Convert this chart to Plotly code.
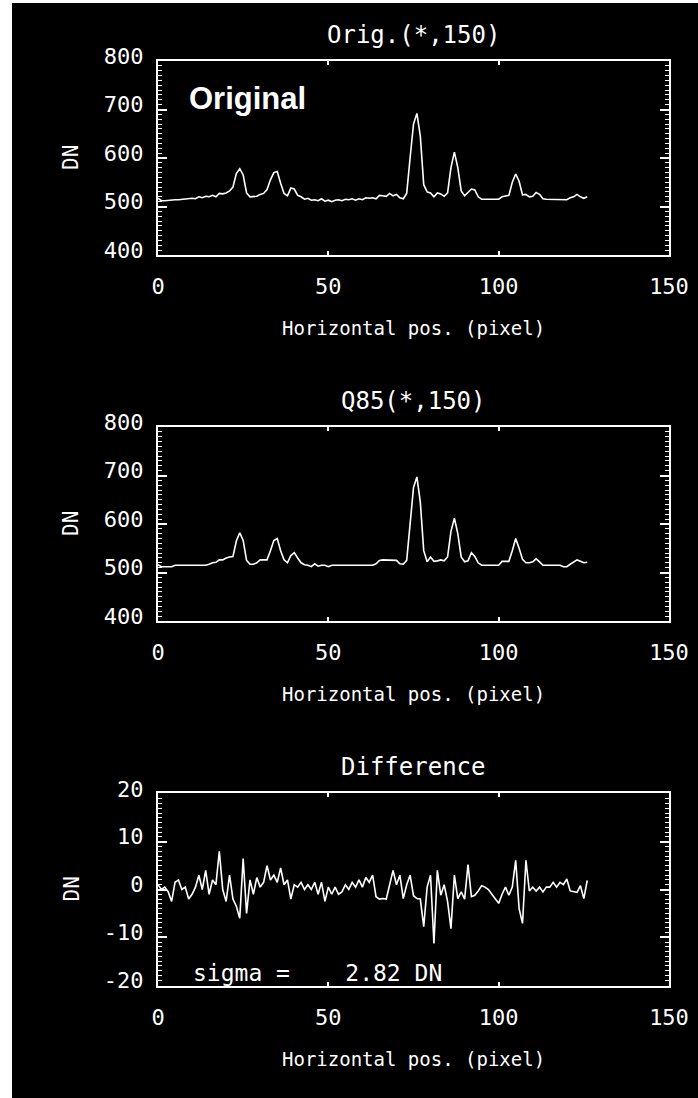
import plotly.graph_objects as go

# Row profile at y=150: pixel position along the row
pixel_pos = list(range(127))

# Original image row (DN)
orig_dn = [
    517, 512, 512, 513, 513, 514, 514, 515, 515, 516,
    517, 516, 520, 518, 521, 520, 523, 520, 527, 526,
    528, 532, 540, 568, 578, 565, 528, 520, 521, 521,
    525, 527, 535, 555, 570, 572, 548, 527, 522, 538,
    536, 523, 520, 515, 517, 513, 514, 512, 516, 511,
    513, 510, 513, 514, 512, 515, 514, 516, 513, 516,
    514, 518, 517, 518, 516, 523, 522, 521, 527, 522,
    525, 518, 516, 527, 600, 670, 692, 645, 545, 530,
    528, 520, 528, 526, 521, 528, 580, 612, 580, 532,
    522, 528, 536, 534, 520, 515, 515, 515, 514, 515,
    515, 520, 521, 523, 550, 567, 552, 524, 525, 520,
    521, 529, 525, 516, 515, 515, 515, 515, 515, 514,
    514, 518, 520, 525, 520, 517, 520,
]

# Q85-compressed row (DN)
q85_dn = [
    516, 512, 512, 512, 512, 515, 515, 515, 515, 515,
    515, 515, 515, 515, 515, 517, 520, 521, 526, 526,
    530, 532, 533, 565, 582, 566, 525, 517, 517, 520,
    526, 526, 526, 545, 566, 570, 545, 526, 520, 535,
    541, 530, 520, 516, 515, 512, 518, 513, 515, 515,
    512, 515, 515, 515, 515, 515, 515, 515, 515, 515,
    515, 515, 515, 515, 518, 525, 526, 526, 526, 526,
    525, 518, 517, 525, 602, 675, 697, 645, 545, 522,
    532, 523, 524, 526, 524, 532, 585, 612, 580, 532,
    522, 524, 541, 533, 520, 515, 515, 515, 515, 515,
    515, 523, 523, 523, 545, 570, 550, 527, 520, 520,
    522, 528, 522, 515, 515, 515, 515, 515, 515, 512,
    512, 517, 522, 526, 523, 520, 521,
]

# Original minus Q85 (DN)
diff_dn = [
    1.0, 0.0, 0.5, -0.5, -2.5, 1.5, 2.0, 0.0, 0.5, -2.0,
    -1.0, 0.5, 3.0, 0.0, 4.0, -1.0, 2.0, 1.0, 8.0, 0.0,
    -2.5, 3.0, -2.0, -3.5, -6.0, 6.5, -5.0, 2.0, -1.0, 2.5,
    0.5, 1.5, 5.0, 2.0, 3.0, 1.5, 4.5, 1.0, 2.0, -2.0,
    1.0, 0.5, 1.5, 0.0, 1.0, 0.0, 1.5, -1.0, 1.5, -2.5,
    0.5, -1.0, 0.5, -1.0, -0.5, 1.0, 0.0, 1.5, 0.5, 2.0,
    0.5, 2.5, 1.5, 3.0, -1.5, -2.0, -1.9, -2.0, 1.0, 4.0,
    1.0, 3.0, -1.9, 1.0, 3.0, -1.3, -1.9, -2.0, -7.8, 0.5,
    3.0, -11.3, 4.0, -1.2, 1.0, -2.5, -8.2, 3.0, -1.9, -0.5,
    -2.0, 5.2, -1.5, -1.2, -0.3, 0.8, 0.5, 0.0, -1.0, -2.0,
    -2.9, -1.0, 0.5, -1.2, 0.5, 6.1, -4.0, -7.1, 6.1, -0.3,
    0.5, -0.3, 0.5, -0.5, 0.5, 0.5, 1.5, 0.5, 1.5, 1.0,
    2.2, -0.3, -0.5, -0.6, 0.8, -1.9, 1.9,
]

sigma_dn = 2.82

panel_titles = ["Orig.(*,150)", "Q85(*,150)", "Difference"]
x_label = "Horizontal pos. (pixel)"
y_label = "DN"
x_ticks = [0, 50, 100, 150]

W, H = 698, 1098
FONT = "DejaVu Sans Mono"


def fx(px):
    return px / W


def fy(py):
    return 1 - py / H


# frame edges in pixels
FX0, FX1 = 158, 669
panels = [(61, 255), (427, 621), (793, 986)]

fig = go.Figure()

series = [orig_dn, q85_dn, diff_dn]
for k, ys in enumerate(series):
    ax = "" if k == 0 else str(k + 1)
    fig.add_trace(go.Scatter(
        x=pixel_pos, y=ys, mode="lines",
        line=dict(color="white", width=1.6),
        xaxis="x" + ax, yaxis="y" + ax, showlegend=False,
        hoverinfo="skip",
    ))

common_x = dict(
    range=[0, 150], tickvals=x_ticks, ticktext=[str(v) for v in x_ticks],
    showgrid=False, zeroline=False, showline=True, linecolor="white",
    linewidth=2, mirror="ticks", ticks="inside", ticklen=4, tickwidth=1.5,
    tickcolor="white", tickfont=dict(family=FONT, size=22, color="white"),
    ticklabelstandoff=11, fixedrange=True, automargin=False,
)

layout = dict(
    template="none",
    width=W, height=H,
    margin=dict(l=0, r=0, t=0, b=0, pad=0, autoexpand=False),
    paper_bgcolor="white", plot_bgcolor="black",
    showlegend=False,
)

y_specs = [
    dict(range=[400, 800], tickvals=[400, 500, 600, 700, 800], minor_dtick=10),
    dict(range=[400, 800], tickvals=[400, 500, 600, 700, 800], minor_dtick=10),
    dict(range=[-20.2, 20.2], tickvals=[-20, -10, 0, 10, 20], minor_dtick=1),
]

for k, ((top, bot), ys) in enumerate(zip(panels, y_specs)):
    sfx = "" if k == 0 else str(k + 1)
    xa = dict(common_x, domain=[fx(FX0), fx(FX1)], anchor="y" + sfx)
    ya = dict(
        range=ys["range"], tickvals=ys["tickvals"],
        ticktext=[str(v) for v in ys["tickvals"]],
        domain=[fy(bot), fy(top)], anchor="x" + sfx,
        showgrid=False, zeroline=False, showline=True, linecolor="white",
        linewidth=2, mirror="ticks", ticks="inside", ticklen=9, tickwidth=1.5,
        tickcolor="white", tickfont=dict(family=FONT, size=22, color="white"),
        ticklabelstandoff=8, ticklabelshift=-5, fixedrange=True,
        automargin=False,
        minor=dict(dtick=ys["minor_dtick"], ticks="inside", ticklen=4,
                   tickwidth=1, tickcolor="white"),
    )
    layout["xaxis" + sfx] = xa
    layout["yaxis" + sfx] = ya

fig.update_layout(**layout)

# black backdrop of the whole graphic
fig.add_shape(type="rect", xref="paper", yref="paper",
              x0=fx(12), x1=1, y0=0, y1=fy(3),
              fillcolor="black", line=dict(width=0), layer="below")

cx = (FX0 + FX1) / 2
for k, (top, bot) in enumerate(panels):
    # panel title
    fig.add_annotation(x=fx(cx), y=fy(top - 26), xref="paper", yref="paper",
                       text=panel_titles[k], showarrow=False,
                       font=dict(family=FONT, size=24, color="white"),
                       xanchor="center", yanchor="middle")
    # x-axis title
    fig.add_annotation(x=fx(cx), y=fy(bot + 73), xref="paper", yref="paper",
                       text=x_label, showarrow=False,
                       font=dict(family=FONT, size=19, color="white"),
                       xanchor="center", yanchor="middle")
    # y-axis title
    fig.add_annotation(x=fx(71), y=fy((top + bot) / 2), xref="paper",
                       yref="paper", text=y_label, showarrow=False,
                       textangle=-90,
                       font=dict(family=FONT, size=21, color="white"),
                       xanchor="center", yanchor="middle")

fig.add_annotation(x=fx(187), y=fy(99), xref="paper", yref="paper",
                   text="<b>Original</b>", showarrow=False,
                   font=dict(family="Liberation Sans", size=31, color="white"),
                   xanchor="left", yanchor="middle")

fig.add_annotation(x=fx(191), y=fy(973), xref="paper", yref="paper",
                   text="sigma =\u00a0\u00a0\u00a0\u00a0" + f"{sigma_dn:.2f} DN",
                   showarrow=False,
                   font=dict(family=FONT, size=23, color="white"),
                   xanchor="left", yanchor="middle")

fig.write_html("out.html")
